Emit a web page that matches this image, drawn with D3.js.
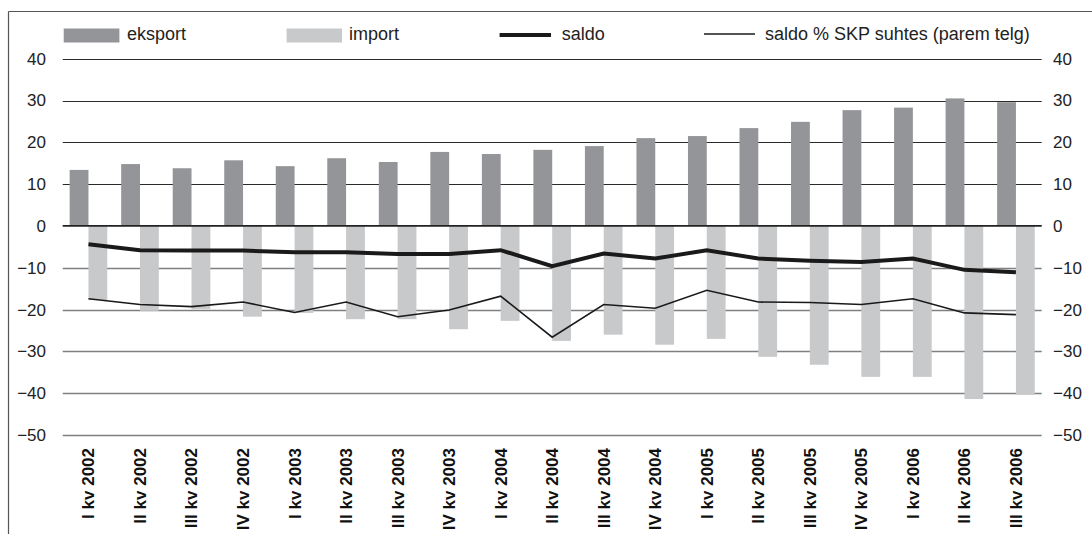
<!DOCTYPE html>
<html>
<head>
<meta charset="utf-8">
<script src="https://cdn.jsdelivr.net/npm/d3@7"></script>
<style>
    body { margin: 0; background: #fff; }
    svg { display: block; font-family: "Liberation Sans", Arial, sans-serif; }
</style>
</head>
<body>
<div id="chart"></div>
<script>
// Quarters on the x axis
const quarters = [
    "I kv 2002", "II kv 2002", "III kv 2002", "IV kv 2002",
    "I kv 2003", "II kv 2003", "III kv 2003", "IV kv 2003",
    "I kv 2004", "II kv 2004", "III kv 2004", "IV kv 2004",
    "I kv 2005", "II kv 2005", "III kv 2005", "IV kv 2005",
    "I kv 2006", "II kv 2006", "III kv 2006"
];

// Series values
const eksport = [13.4, 14.8, 13.8, 15.7, 14.3, 16.2, 15.3, 17.7, 17.2, 18.2,
                 19.1, 21.0, 21.5, 23.4, 24.9, 27.7, 28.3, 30.5, 29.6];
const importVals = [-17.7, -20.3, -19.9, -21.7, -20.8, -22.3, -22.3, -24.7, -22.7, -27.5,
                    -26.0, -28.4, -27.0, -31.3, -33.2, -36.1, -36.1, -41.4, -40.4];
const saldo = [-4.4, -5.8, -5.9, -5.9, -6.3, -6.3, -6.7, -6.7, -5.8, -9.6,
               -6.6, -7.8, -5.8, -7.8, -8.3, -8.6, -7.8, -10.5, -11.1];
const saldoSkp = [-17.4, -18.8, -19.3, -18.2, -20.7, -18.2, -21.7, -20.1, -16.8, -26.6,
                  -18.8, -19.7, -15.4, -18.2, -18.3, -18.8, -17.4, -20.8, -21.2];

const yTicks = [40, 30, 20, 10, 0, -10, -20, -30, -40, -50];

const width = 1092, height = 534;
const left = 62.7, right = 1041.7;

const svg = d3.select("#chart").append("svg")
    .attr("width", width)
    .attr("height", height);

// Frame (top and left edges only)
svg.append("line").attr("x1", 8.5).attr("x2", width).attr("y1", 11.5).attr("y2", 11.5)
    .attr("stroke", "#555").attr("stroke-width", 1.2);
svg.append("line").attr("x1", 8.5).attr("x2", 8.5).attr("y1", 11.5).attr("y2", height)
    .attr("stroke", "#555").attr("stroke-width", 1.2);

// Scales - both axes share the same range
const x = d3.scaleBand().domain(quarters).range([left, right]).padding(0);
const y = d3.scaleLinear().domain([-50, 40]).range([435, 58.7]);
const y2 = d3.scaleLinear().domain([-50, 40]).range([435, 58.7]);
const barW = x.bandwidth() * 0.365;
const cx = d => x(d) + x.bandwidth() / 2;

// Gridlines
svg.append("g")
    .selectAll("line")
    .data(yTicks.filter(d => d !== 0))
    .join("line")
    .attr("x1", left).attr("x2", right)
    .attr("y1", d => Math.round(y(d)) + 0.5)
    .attr("y2", d => Math.round(y(d)) + 0.5)
    .attr("stroke", d => d > 0 ? "#2a2a2a" : "#808080")
    .attr("stroke-width", d => d > 0 ? 1.2 : 1.6);

// Left axis labels
svg.append("g")
    .attr("transform", "translate(46,0)")
    .call(d3.axisLeft(y).tickValues(yTicks).tickSize(0).tickPadding(0).tickFormat(d3.format("d")))
    .call(g => g.select(".domain").remove())
    .selectAll("text")
    .attr("font-size", 17)
    .attr("fill", "#222")
    .attr("font-family", "Liberation Sans, Arial, sans-serif");

// Right axis labels (saldo % SKP)
svg.append("g")
    .attr("transform", "translate(1053,0)")
    .call(d3.axisRight(y2).tickValues(yTicks).tickSize(0).tickPadding(0).tickFormat(d3.format("d")))
    .call(g => g.select(".domain").remove())
    .selectAll("text")
    .attr("font-size", 17)
    .attr("fill", "#222")
    .attr("font-family", "Liberation Sans, Arial, sans-serif");

// Export bars
svg.append("g")
    .selectAll("rect")
    .data(quarters)
    .join("rect")
    .attr("x", d => cx(d) - barW)
    .attr("width", barW)
    .attr("y", (d, i) => y(eksport[i]))
    .attr("height", (d, i) => y(0) - y(eksport[i]))
    .attr("fill", "#939598");

// Import bars
svg.append("g")
    .selectAll("rect")
    .data(quarters)
    .join("rect")
    .attr("x", d => cx(d))
    .attr("width", barW)
    .attr("y", y(0))
    .attr("height", (d, i) => y(importVals[i]) - y(0))
    .attr("fill", "#c8c9cb");

// Zero line on top of the bars
svg.append("line")
    .attr("x1", left).attr("x2", right)
    .attr("y1", y(0)).attr("y2", y(0))
    .attr("stroke", "#222").attr("stroke-width", 1.8);

// Lines
const line = (scale) => d3.line()
    .x((d, i) => cx(quarters[i]))
    .y(d => scale(d));

svg.append("path")
    .datum(saldo)
    .attr("d", line(y))
    .attr("fill", "none")
    .attr("stroke", "#1a1a1a")
    .attr("stroke-width", 4);

svg.append("path")
    .datum(saldoSkp)
    .attr("d", line(y2))
    .attr("fill", "none")
    .attr("stroke", "#1a1a1a")
    .attr("stroke-width", 1.6);

// X axis labels, rotated
svg.append("g")
    .selectAll("text")
    .data(quarters)
    .join("text")
    .attr("transform", d => `translate(${cx(d)},448) rotate(-90)`)
    .attr("text-anchor", "end")
    .attr("dy", "0.35em")
    .attr("font-size", 17)
    .attr("font-weight", "bold")
    .attr("fill", "#111")
    .text(d => d);

// Legend
const legend = svg.append("g").attr("font-size", 18).attr("fill", "#222");
legend.append("rect").attr("x", 63.7).attr("y", 28.5).attr("width", 55.7).attr("height", 14).attr("fill", "#939598");
legend.append("text").attr("x", 127).attr("y", 40).text("eksport");
legend.append("rect").attr("x", 286.6).attr("y", 28.5).attr("width", 55.4).attr("height", 14).attr("fill", "#c8c9cb");
legend.append("text").attr("x", 349).attr("y", 40).text("import");
legend.append("line").attr("x1", 499.6).attr("x2", 551).attr("y1", 35).attr("y2", 35)
    .attr("stroke", "#1a1a1a").attr("stroke-width", 4);
legend.append("text").attr("x", 561.7).attr("y", 40).text("saldo");
legend.append("line").attr("x1", 704).attr("x2", 755).attr("y1", 34).attr("y2", 34)
    .attr("stroke", "#1a1a1a").attr("stroke-width", 1.6);
legend.append("text").attr("x", 765).attr("y", 40).text("saldo % SKP suhtes (parem telg)");
</script>
</body>
</html>
